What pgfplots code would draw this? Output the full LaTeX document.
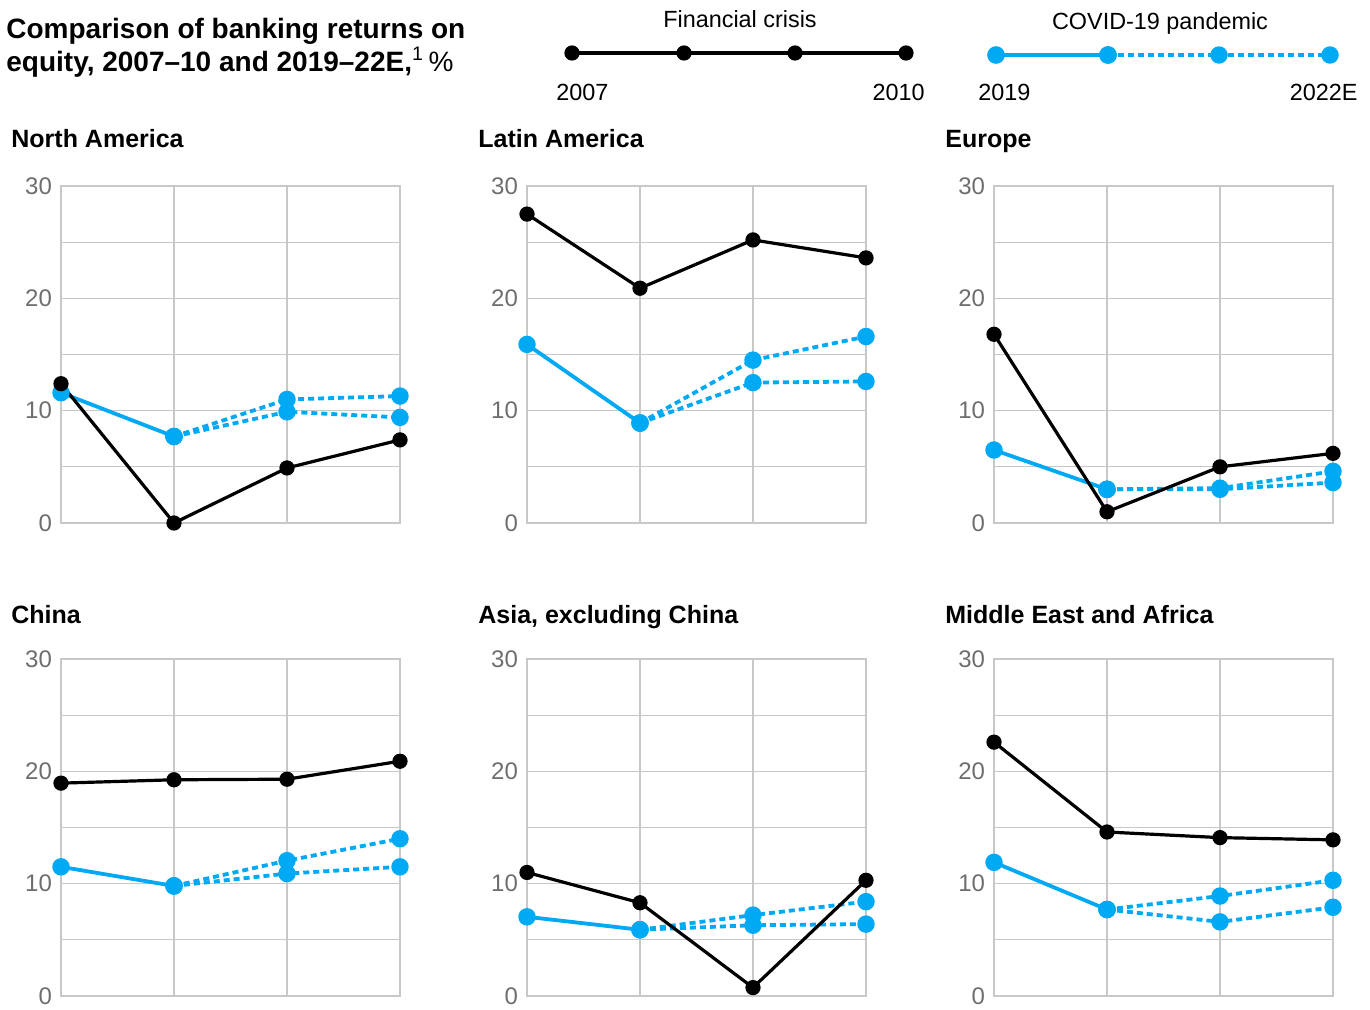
\documentclass[border=0pt]{standalone}
\usepackage{fontspec}
\setmainfont{Liberation Sans}
\usepackage{pgfplots}
\pgfplotsset{compat=1.18}
\definecolor{cblue}{RGB}{0,169,244}
\definecolor{gridgray}{RGB}{200,200,200}
\definecolor{tickgray}{RGB}{110,110,110}
\pgfplotsset{
  panel/.style={
    scale only axis, width=169.5pt, height=168.5pt,
    xmin=0, xmax=3, ymin=0, ymax=30,
    xtick={0,1,2,3}, xticklabels={},
    ytick={0,10,20,30}, minor ytick={5,15,25},
    grid=both,
    grid style={gridgray, line width=0.6pt},
    minor grid style={gridgray, line width=0.6pt},
    axis line style={gridgray, line width=0.6pt},
    major tick length=0pt, minor tick length=0pt,
    tick style={draw=none},
    yticklabel style={tickgray, font=\fontsize{12}{14}\selectfont, xshift=-1pt, inner ysep=0pt},
    /pgf/number format/assume math mode=true,
    clip=false, anchor=south west,
  },
  blk/.style={black, line width=1.6pt, mark=*, mark size=3pt, mark options={solid, fill=black}},
  bls/.style={cblue, line width=1.9pt, mark=*, mark size=3.4pt, mark options={solid, fill=cblue, draw=cblue}},
  bld/.style={cblue, line width=1.9pt, dash pattern=on 3pt off 2pt, mark=*, mark size=3.4pt, mark options={solid, fill=cblue, draw=cblue}},
}
\begin{document}
\begin{tikzpicture}
\useasboundingbox (0,0) rectangle (685pt,504.5pt);

% North America
\begin{axis}[panel, at={(30.5pt,243pt)}]
\addplot[bld] coordinates {(1,7.7)(2,11.0)(3,11.3)};
\addplot[bld] coordinates {(1,7.7)(2,9.9)(3,9.4)};
\addplot[bls] coordinates {(0,11.6)(1,7.7)};
\addplot[blk] coordinates {(0,12.4)(1,0)(2,4.9)(3,7.4)};
\end{axis}
% Latin America
\begin{axis}[panel, at={(263.5pt,243pt)}]
\addplot[bld] coordinates {(1,8.9)(2,14.5)(3,16.6)};
\addplot[bld] coordinates {(1,8.9)(2,12.5)(3,12.6)};
\addplot[bls] coordinates {(0,15.9)(1,8.9)};
\addplot[blk] coordinates {(0,27.5)(1,20.9)(2,25.2)(3,23.6)};
\end{axis}
% Europe
\begin{axis}[panel, at={(497pt,243pt)}]
\addplot[bld] coordinates {(1,3.0)(2,3.1)(3,4.6)};
\addplot[bld] coordinates {(1,3.0)(2,3.0)(3,3.6)};
\addplot[bls] coordinates {(0,6.5)(1,3.0)};
\addplot[blk] coordinates {(0,16.8)(1,1.0)(2,5.0)(3,6.2)};
\end{axis}
% China
\begin{axis}[panel, at={(30.5pt,6.5pt)}]
\addplot[bld] coordinates {(1,9.8)(2,12.05)(3,14.0)};
\addplot[bld] coordinates {(1,9.8)(2,10.9)(3,11.5)};
\addplot[bls] coordinates {(0,11.5)(1,9.8)};
\addplot[blk] coordinates {(0,18.95)(1,19.25)(2,19.3)(3,20.9)};
\end{axis}
% Asia excl China
\begin{axis}[panel, at={(263.5pt,6.5pt)}]
\addplot[bld] coordinates {(1,5.9)(2,7.2)(3,8.4)};
\addplot[bld] coordinates {(1,5.9)(2,6.3)(3,6.4)};
\addplot[bls] coordinates {(0,7.05)(1,5.9)};
\addplot[blk] coordinates {(0,11.0)(1,8.3)(2,0.75)(3,10.3)};
\end{axis}
% Middle East and Africa
\begin{axis}[panel, at={(497pt,6.5pt)}]
\addplot[bld] coordinates {(1,7.7)(2,8.9)(3,10.3)};
\addplot[bld] coordinates {(1,7.7)(2,6.6)(3,7.9)};
\addplot[bls] coordinates {(0,11.9)(1,7.7)};
\addplot[blk] coordinates {(0,22.6)(1,14.6)(2,14.1)(3,13.9)};
\end{axis}

% overlay: titles and legend (pixel coordinates)
\begin{axis}[at={(0pt,0pt)}, anchor=south west, scale only axis,
  width=685pt, height=504.5pt, xmin=0, xmax=1370, ymin=0, ymax=1009,
  y dir=reverse, hide axis, clip=false]
\addplot[black, line width=1.6pt, mark=*, mark size=3pt, mark options={solid, fill=black}] coordinates {(572,53)(684,53)(795,53)(906,53)};
\addplot[bld] coordinates {(1108,55)(1219,55)(1330,55)};
\addplot[bls, line width=2pt] coordinates {(996,55)(1108,55)};
\node[anchor=base west, inner sep=0pt, font=\bfseries\fontsize{14}{16}\selectfont] at (axis cs:6,38) {Comparison of banking returns on};
\node[anchor=base west, inner sep=0pt, font=\bfseries\fontsize{14}{16}\selectfont] at (axis cs:6,71) {equity, 2007--10 and 2019--22E,\textsuperscript{\mdseries 1}\,{\mdseries\%}};
\node[anchor=base, inner sep=0pt, font=\fontsize{11.7}{14}\selectfont] at (axis cs:740,27) {Financial crisis};
\node[anchor=base, inner sep=0pt, font=\fontsize{11.7}{14}\selectfont] at (axis cs:1160,29) {COVID-19 pandemic};
\node[anchor=base west, inner sep=0pt, font=\fontsize{11.7}{14}\selectfont] at (axis cs:556,100) {2007};
\node[anchor=base east, inner sep=0pt, font=\fontsize{11.7}{14}\selectfont] at (axis cs:925,100) {2010};
\node[anchor=base west, inner sep=0pt, font=\fontsize{11.7}{14}\selectfont] at (axis cs:978,100) {2019};
\node[anchor=base east, inner sep=0pt, font=\fontsize{11.7}{14}\selectfont] at (axis cs:1358,100) {2022E};
\node[anchor=base west, inner sep=0pt, font=\bfseries\fontsize{12.5}{14}\selectfont] at (axis cs:11,147) {North America};
\node[anchor=base west, inner sep=0pt, font=\bfseries\fontsize{12.5}{14}\selectfont] at (axis cs:478,147) {Latin America};
\node[anchor=base west, inner sep=0pt, font=\bfseries\fontsize{12.5}{14}\selectfont] at (axis cs:945,147) {Europe};
\node[anchor=base west, inner sep=0pt, font=\bfseries\fontsize{12.5}{14}\selectfont] at (axis cs:11,623) {China};
\node[anchor=base west, inner sep=0pt, font=\bfseries\fontsize{12.5}{14}\selectfont] at (axis cs:478,623) {Asia, excluding China};
\node[anchor=base west, inner sep=0pt, font=\bfseries\fontsize{12.5}{14}\selectfont] at (axis cs:945,623) {Middle East and Africa};
\end{axis}
\end{tikzpicture}
\end{document}
